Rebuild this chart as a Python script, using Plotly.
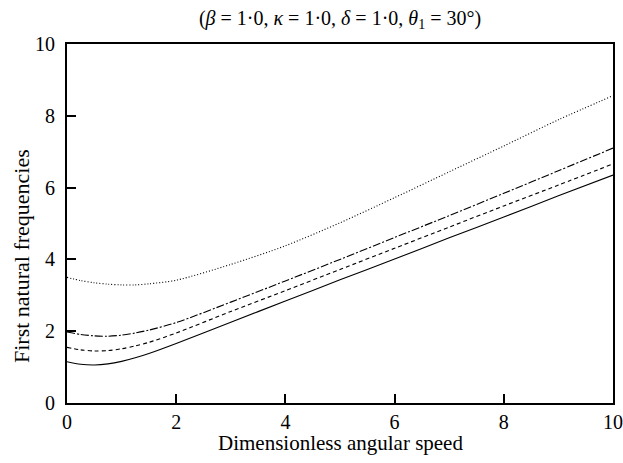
import plotly.graph_objects as go

speed = [0, 0.25, 0.5, 0.75, 1, 1.25, 1.5, 2, 3, 4, 5, 6, 7, 8, 9, 10]
solid = [1.15, 1.08, 1.06, 1.09, 1.16, 1.26, 1.38, 1.66, 2.25, 2.84, 3.43, 4.01, 4.60, 5.18, 5.77, 6.35]
dashed = [1.55, 1.48, 1.45, 1.46, 1.51, 1.59, 1.69, 1.95, 2.55, 3.13, 3.72, 4.31, 4.90, 5.49, 6.07, 6.66]
dashdot = [1.98, 1.91, 1.87, 1.86, 1.89, 1.95, 2.03, 2.24, 2.81, 3.40, 4.00, 4.61, 5.22, 5.84, 6.47, 7.10]
dotted = [3.50, 3.41, 3.35, 3.31, 3.29, 3.29, 3.32, 3.42, 3.86, 4.38, 5.02, 5.72, 6.44, 7.16, 7.89, 8.56]
tick_vals = [0, 2, 4, 6, 8, 10]

series = [
    (solid, "solid"),
    (dashed, "4px,3px"),
    (dashdot, "8px,2px,2px,2px"),
    (dotted, "1px,2px"),
]

fig = go.Figure()
for ys, dash in series:
    fig.add_trace(go.Scatter(x=speed, y=ys, mode="lines",
                             line=dict(color="black", width=1.1, dash=dash, shape="spline", smoothing=0.8),
                             showlegend=False, hoverinfo="skip"))

fam = "Liberation Serif, Times New Roman, serif"
font = dict(family=fam, size=20, color="black")
axis_common = dict(range=[0, 10], tickvals=tick_vals, ticks="inside", ticklen=9, tickwidth=1.5,
                   tickcolor="black", showline=True, linecolor="black", linewidth=2,
                   mirror=True, showgrid=False, zeroline=False, tickfont=font, automargin=False,
                   ticklabeloverflow="allow")

fig.update_layout(
    width=623, height=463,
    margin=dict(l=67, r=10, t=44, b=60),
    paper_bgcolor="white", plot_bgcolor="white",
    font=font,
    title=dict(text="(<i>β</i> = 1·0, <i>κ</i> = 1·0, <i>δ</i> = 1·0, <i>θ</i><sub>1</sub> = 30°)",
               x=0.5, xref="paper", xanchor="center", yref="container", y=0.962, yanchor="middle",
               font=font, automargin=False),
    xaxis=dict(**axis_common),
    yaxis=dict(ticklabelstandoff=6, **axis_common),
    annotations=[
        dict(text="Dimensionless angular speed", xref="paper", yref="paper", x=0.5, y=-0.111,
             xanchor="center", yanchor="middle", showarrow=False, font=dict(family=fam, size=21, color="black")),
        dict(text="First natural frequencies", xref="paper", yref="paper", x=-0.082, y=0.41,
             xanchor="center", yanchor="middle", textangle=-90, showarrow=False,
             font=dict(family=fam, size=22, color="black")),
    ],
)

fig.write_html("out.html", config={"displayModeBar": False},
               post_script="document.body.style.margin='0';document.body.style.overflow='hidden';")
